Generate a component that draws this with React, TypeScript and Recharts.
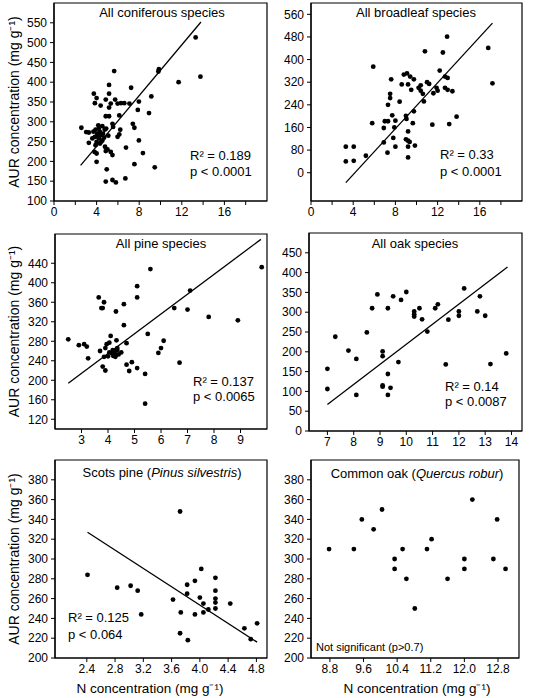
import React from 'react';
import { ScatterChart, Scatter, XAxis, YAxis, ReferenceLine, ReferenceArea } from 'recharts';

const FONT = '"Liberation Sans", Arial, Helvetica, sans-serif';
const AUR_LABEL = 'AUR concentration (mg g\u207B\u00B9)';
const N_LABEL = 'N concentration (mg g\u207B\u00B9)';

// All coniferous species
const coniferN = [13.3, 13.75, 11.7, 9.85, 9.8, 5.65, 7.24, 5.17, 5.17, 9.14, 3.74, 4.0, 3.84, 4.38, 4.86, 5.74, 5.33, 5.17, 5.97, 6.29, 6.6, 7.08, 7.97, 7.87, 8.92, 4.86, 5.17, 6.13, 2.57, 3.02, 3.27, 3.27, 4.16, 3.9, 4.54, 4.76, 4.06, 4.38, 3.84, 4.22, 4.54, 4.0, 4.32, 3.9, 3.81, 4.0, 5.49, 5.55, 6.22, 6.13, 5.97, 7.4, 7.55, 7.97, 4.79, 5.02, 4.86, 5.33, 6.76, 8.35, 4.0, 5.49, 7.55, 9.46, 4.95, 4.86, 5.49, 5.81, 6.7, 4.3, 4.1, 4.6, 3.6, 4.45, 4.9, 5.1, 3.7, 4.2, 4.7];
const coniferAUR = [513, 414, 400, 433, 427, 428, 386, 393, 371, 364, 371, 360, 347, 341, 356, 356, 346, 336, 346, 347, 347, 346, 351, 330, 322, 314, 314, 316, 285, 274, 273, 247, 291, 280, 289, 280, 270, 266, 262, 258, 253, 249, 245, 241, 224, 220, 295, 287, 280, 268, 262, 295, 285, 253, 237, 230, 226, 224, 235, 221, 199, 216, 193, 185, 180, 149, 153, 147, 157, 275, 262, 270, 258, 250, 283, 265, 275, 283, 260];
const coniferFitN = [2.5, 13.8];
const coniferFitAUR = [190, 552];

// All broadleaf species
const broadleafN = [12.9, 10.8, 12.5, 16.8, 17.2, 5.9, 7.6, 8.8, 9.1, 9.4, 9.75, 8.6, 9.2, 9.5, 10.2, 10.4, 10.4, 10.6, 11.0, 11.2, 11.9, 12.0, 11.6, 12.2, 12.7, 12.95, 12.7, 12.95, 13.4, 7.5, 7.5, 8.4, 7.3, 10.7, 7.7, 9.0, 9.75, 9.05, 8.0, 7.0, 7.3, 5.8, 6.9, 7.9, 9.65, 11.5, 13.1, 13.8, 9.2, 7.8, 9.0, 9.2, 9.35, 6.9, 8.0, 9.85, 9.2, 7.25, 5.2, 9.2, 3.3, 4.05, 3.3, 4.05];
const broadleafAUR = [481, 429, 425, 441, 316, 375, 330, 347, 351, 340, 330, 312, 312, 293, 300, 309, 290, 279, 320, 314, 300, 290, 281, 361, 340, 335, 300, 293, 288, 279, 264, 251, 240, 252, 203, 201, 217, 190, 184, 182, 182, 175, 158, 160, 175, 170, 172, 198, 146, 123, 118, 113, 109, 107, 92, 96, 92, 71, 60, 54, 92, 92, 40, 42];
const broadleafFitN = [3.3, 17.2];
const broadleafFitAUR = [-35, 529];

// All pine species
const pineN = [9.8, 5.6, 5.1, 5.1, 3.65, 3.85, 3.75, 3.8, 4.3, 4.6, 7.1, 6.5, 7.0, 7.8, 8.9, 4.6, 2.5, 2.9, 3.1, 3.2, 3.25, 3.7, 3.85, 3.8, 3.9, 3.95, 4.05, 4.1, 3.9, 4.05, 4.15, 4.2, 4.25, 4.3, 4.18, 4.28, 4.35, 4.32, 4.35, 4.5, 4.7, 5.5, 6.1, 6.0, 5.9, 4.7, 4.9, 4.8, 5.1, 5.4, 6.7, 5.4, 4.0, 4.4];
const pineAUR = [432, 428, 393, 370, 370, 360, 348, 348, 341, 356, 384, 348, 345, 330, 323, 313, 284, 272, 274, 269, 245, 260, 248, 228, 220, 274, 277, 291, 266, 257, 255, 250, 258, 252, 262, 248, 262, 282, 266, 257, 276, 295, 281, 266, 256, 232, 237, 219, 225, 213, 236, 152, 249, 253];
const pineFitN = [2.5, 9.77];
const pineFitAUR = [194, 489];

// All oak species
const oakN = [7.0, 7.0, 7.3, 7.8, 8.1, 8.1, 8.5, 8.7, 8.9, 9.3, 9.1, 9.1, 9.1, 9.1, 9.3, 9.3, 9.4, 9.5, 9.8, 10.0, 9.7, 10.3, 10.3, 10.3, 10.5, 10.6, 10.8, 11.1, 11.2, 11.5, 11.6, 12.0, 12.0, 12.2, 12.7, 12.8, 13.0, 13.2, 13.8];
const oakAUR = [157, 106, 238, 203, 182, 91, 249, 310, 345, 310, 201, 189, 115, 112, 144, 91, 109, 340, 331, 351, 174, 302, 295, 289, 310, 282, 251, 310, 320, 168, 281, 302, 291, 360, 302, 340, 291, 169, 196];
const oakFitN = [7.0, 13.85];
const oakFitAUR = [67, 414];

// Scots pine (Pinus silvestris)
const scotsN = [2.41, 2.83, 3.02, 3.12, 3.17, 3.62, 3.72, 3.73, 3.72, 3.82, 3.82, 3.83, 3.93, 3.93, 4.0, 4.02, 4.05, 4.05, 4.12, 4.22, 4.22, 4.22, 4.22, 4.22, 4.43, 4.63, 4.72, 4.81];
const scotsAUR = [284, 271, 273, 268, 244, 259, 348, 246, 225, 265, 274, 218, 278, 244, 261, 290, 255, 246, 249, 281, 268, 260, 256, 250, 255, 230, 219, 235];
const scotsFitN = [2.41, 4.81];
const scotsFitAUR = [327, 216];

// Common oak (Quercus robur)
const roburN = [8.78, 9.37, 9.56, 9.84, 10.04, 10.34, 10.34, 10.53, 10.62, 10.82, 11.11, 11.22, 11.6, 12.0, 12.0, 12.19, 12.69, 12.78, 12.98];
const roburAUR = [310, 310, 340, 330, 350, 300, 290, 310, 280, 250, 310, 320, 280, 300, 290, 360, 300, 340, 290];

// tick labels
const wideNTicks = [0, 2, 4, 6, 8, 10, 12, 14, 16, 18];
const coniferAURTicks = [100, 150, 200, 250, 300, 350, 400, 450, 500, 550];
const broadleafAURTicks = [0, 80, 160, 240, 320, 400, 480, 560];
const pineNTicks = [3, 4, 5, 6, 7, 8, 9];
const pineAURTicks = [120, 160, 200, 240, 280, 320, 360, 400, 440];
const oakNTicks = [7, 8, 9, 10, 11, 12, 13, 14];
const oakAURTicks = [0, 50, 100, 150, 200, 250, 300, 350, 400, 450];
const scotsNTicks = [2.4, 2.8, 3.2, 3.6, 4.0, 4.4, 4.8];
const roburNTicks = [8.8, 9.6, 10.4, 11.2, 12.0, 12.8];
const speciesAURTicks = [200, 220, 240, 260, 280, 300, 320, 340, 360, 380];

const zip = (xs: number[], ys: number[]) => xs.map((x, i) => ({ x, y: ys[i] }));

const dot = (p: any) => <circle cx={p.cx} cy={p.cy} r={2.4} fill="#000" />;

interface PanelProps {
  n: number[];
  aur: number[];
  fitN?: number[];
  fitAUR?: number[];
  xDomain: [number, number];
  yDomain: [number, number];
  xTicks: number[];
  yTicks: number[];
  xFormat?: (v: number) => string;
  left: number;
  top: number;
  width: number;
  height: number;
  marginTop: number;
  marginRight: number;
  yAxisWidth: number;
  xAxisHeight: number;
  yTitle?: boolean;
  xTitle?: boolean;
  xTitleDx?: number;
}

const tickStyle = { fill: '#000', fontSize: 12, fontFamily: FONT };

const Panel: React.FC<PanelProps> = (p) => (
  <div style={{ position: 'absolute', left: p.left, top: p.top }}>
    <ScatterChart width={p.width} height={p.height} margin={{ top: p.marginTop, right: p.marginRight, bottom: 0, left: 0 }}>
      <XAxis
        dataKey="x"
        type="number"
        domain={p.xDomain}
        ticks={p.xTicks}
        allowDataOverflow
        interval={0}
        height={p.xAxisHeight}
        tickFormatter={p.xFormat}
        tick={tickStyle}
        tickSize={4}
        tickMargin={2}
        axisLine={{ stroke: '#000', strokeWidth: 1.2 }}
        tickLine={{ stroke: '#000', strokeWidth: 1 }}
        label={p.xTitle ? { value: N_LABEL, position: 'insideBottom', offset: 5, dx: p.xTitleDx || 0, style: { fill: '#000', fontSize: 13.5, fontFamily: FONT } } : undefined}
      />
      <YAxis
        dataKey="y"
        type="number"
        domain={p.yDomain}
        ticks={p.yTicks}
        allowDataOverflow
        interval={0}
        width={p.yAxisWidth}
        tick={tickStyle}
        tickSize={4}
        tickMargin={3}
        axisLine={{ stroke: '#000', strokeWidth: 1.2 }}
        tickLine={{ stroke: '#000', strokeWidth: 1 }}
        label={p.yTitle ? { value: AUR_LABEL, angle: -90, position: 'insideLeft', offset: 14, style: { textAnchor: 'middle', fill: '#000', fontSize: 14, fontFamily: FONT } } : undefined}
      />
      <ReferenceArea x1={p.xDomain[0]} x2={p.xDomain[1]} y1={p.yDomain[0]} y2={p.yDomain[1]} fill="none" fillOpacity={0} stroke="#000" strokeWidth={1.2} />
      {p.fitN && p.fitAUR && (
        <ReferenceLine
          segment={[{ x: p.fitN[0], y: p.fitAUR[0] }, { x: p.fitN[1], y: p.fitAUR[1] }]}
          stroke="#000"
          strokeWidth={1.3}
          ifOverflow="visible"
        />
      )}
      <Scatter data={zip(p.n, p.aur)} shape={dot} isAnimationActive={false} />
    </ScatterChart>
  </div>
);

const Note: React.FC<{ x: number; y: number; size?: number; center?: boolean; children: React.ReactNode }> = ({ x, y, size = 13, center, children }) => (
  <div
    style={{
      position: 'absolute',
      left: center ? x - 150 : x,
      width: center ? 300 : undefined,
      top: y - 8,
      fontSize: size,
      lineHeight: '15px',
      textAlign: center ? 'center' : 'left',
      whiteSpace: 'nowrap',
      color: '#000',
    }}
  >
    {children}
  </div>
);

const wideFormat = (v: number) => (v % 4 === 0 ? String(v) : '');
const oneDecimal = (v: number) => v.toFixed(1);

export default function App() {
  return (
    <div style={{ position: 'absolute', left: 0, top: 0, width: 544, height: 698, background: '#fff', fontFamily: FONT, overflow: 'hidden' }}>
      <Panel n={coniferN} aur={coniferAUR} fitN={coniferFitN} fitAUR={coniferFitAUR}
        xDomain={[0, 20]} yDomain={[100, 600]} xTicks={wideNTicks} yTicks={coniferAURTicks} xFormat={wideFormat}
        left={0} top={0} width={272} height={225} marginTop={3} marginRight={5} yAxisWidth={54} xAxisHeight={24} yTitle />
      <Panel n={broadleafN} aur={broadleafAUR} fitN={broadleafFitN} fitAUR={broadleafFitAUR}
        xDomain={[0, 20]} yDomain={[-100, 600]} xTicks={wideNTicks} yTicks={broadleafAURTicks} xFormat={wideFormat}
        left={272} top={0} width={255} height={225} marginTop={3} marginRight={5} yAxisWidth={39} xAxisHeight={24} />
      <Panel n={pineN} aur={pineAUR} fitN={pineFitN} fitAUR={pineFitAUR}
        xDomain={[2, 10]} yDomain={[100, 500]} xTicks={pineNTicks} yTicks={pineAURTicks}
        left={0} top={225} width={272} height={228} marginTop={9} marginRight={5} yAxisWidth={55} xAxisHeight={24} yTitle />
      <Panel n={oakN} aur={oakAUR} fitN={oakFitN} fitAUR={oakFitAUR}
        xDomain={[6.3, 14.4]} yDomain={[0, 500]} xTicks={oakNTicks} yTicks={oakAURTicks}
        left={272} top={225} width={255} height={228} marginTop={8} marginRight={5} yAxisWidth={37} xAxisHeight={22} />
      <Panel n={scotsN} aur={scotsAUR} fitN={scotsFitN} fitAUR={scotsFitAUR}
        xDomain={[1.95, 4.95]} yDomain={[200, 400]} xTicks={scotsNTicks} yTicks={speciesAURTicks} xFormat={oneDecimal}
        left={0} top={453} width={272} height={245} marginTop={7} marginRight={5} yAxisWidth={55} xAxisHeight={40} yTitle xTitle xTitleDx={-11} />
      <Panel n={roburN} aur={roburAUR}
        xDomain={[8.35, 13.3]} yDomain={[200, 400]} xTicks={roburNTicks} yTicks={speciesAURTicks} xFormat={oneDecimal}
        left={272} top={453} width={255} height={245} marginTop={7} marginRight={8} yAxisWidth={39} xAxisHeight={40} xTitle xTitleDx={2} />

      <Note x={162} y={13} center>All coniferous species</Note>
      <Note x={416} y={13} center>All broadleaf species</Note>
      <Note x={161} y={244} center>All pine species</Note>
      <Note x={415} y={244} center>All oak species</Note>
      <Note x={162} y={473} center>Scots pine (<i>Pinus silvestris</i>)</Note>
      <Note x={417} y={474} center>Common oak (<i>Quercus robur</i>)</Note>

      <Note x={190} y={156}>R² = 0.189</Note>
      <Note x={190} y={172}>p &lt; 0.0001</Note>
      <Note x={440} y={155}>R² = 0.33</Note>
      <Note x={440} y={172}>p &lt; 0.0001</Note>
      <Note x={193} y={382}>R² = 0.137</Note>
      <Note x={193} y={397}>p &lt; 0.0065</Note>
      <Note x={445} y={387}>R² = 0.14</Note>
      <Note x={445} y={402}>p &lt; 0.0087</Note>
      <Note x={68} y={618}>R² = 0.125</Note>
      <Note x={68} y={635}>p &lt; 0.064</Note>
      <Note x={316} y={648} size={11}>Not significant (p&gt;0.7)</Note>
    </div>
  );
}
